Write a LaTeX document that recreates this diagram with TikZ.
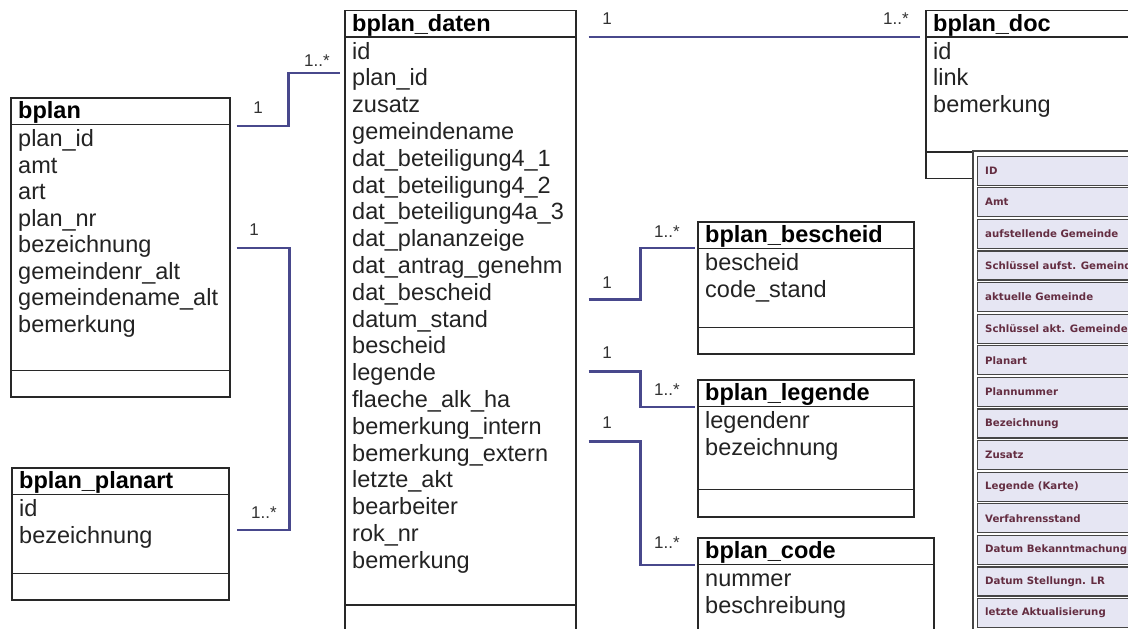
\documentclass[tikz,border=0pt]{standalone}
\usepackage{fontspec}
\setmainfont{Liberation Sans}
\newfontfamily\smallfont{DejaVu Sans}
\usetikzlibrary{calc}
\definecolor{connblue}{RGB}{72,72,140}
\definecolor{boxgray}{RGB}{40,40,40}
\definecolor{labgray}{RGB}{50,50,50}
\definecolor{rowink}{RGB}{35,35,35}
\definecolor{cellfill}{RGB}{230,230,243}
\definecolor{cellline}{RGB}{70,70,70}
\definecolor{cellink}{RGB}{100,45,65}
\tikzset{
 classbox/.style={draw=boxgray, line width=1.5pt, fill=white, inner sep=0pt},
 sepline/.style={draw=boxgray, line width=1.5pt},
 titletext/.style={font=\fontsize{23.5}{26}\selectfont\bfseries, text=black, inner sep=0pt},
 rowtext/.style={font=\fontsize{23.5}{26}\selectfont, text=rowink, inner sep=0pt},
 conn/.style={draw=connblue, line width=2.8pt},
 mult/.style={font=\fontsize{17}{17}\selectfont, text=labgray, inner sep=0pt},
 cell/.style={draw=cellline, line width=1.2pt, fill=cellfill, inner sep=0pt},
 celltxt/.style={font=\smallfont\bfseries\fontsize{10.2}{12}\selectfont, text=cellink, inner sep=0pt},
}
\def\titleh{27.5}
\def\pitch{26.5}
\newcommand\umlclass[8]{%
  \node[classbox, minimum width=#4pt, minimum height=#5pt, anchor=north west] (#1) at (#2,#3) {};
  \draw[sepline] ([yshift=-\titleh pt]#1.north west) -- ([yshift=-\titleh pt]#1.north east);
  \draw[sepline] ([yshift=#6pt]#1.south west) -- ([yshift=#6pt]#1.south east);
  \node[titletext, anchor=base west] (#1-title) at ([xshift=8pt, yshift=-21.5pt]#1.north west) {#7};
  \foreach \t [count=\i from 0] in {#8} {
    \pgfmathsetmacro\yy{\titleh+22+\i*\pitch}
    \node[rowtext, anchor=base west] (#1-r\i) at ([xshift=8pt, yshift=-\yy pt]#1.north west) {\t};
  }%
}
\begin{document}
\begin{tikzpicture}[x=1pt,y=-1pt]
\useasboundingbox (0,0) rectangle (1128,629);
\clip (0,0) rectangle (1128,629);
\fill[white] (0,0) rectangle (1128,629);

\umlclass{bplan}{10}{97}{219}{299}{27}{bplan}{plan\_id,amt,art,plan\_nr,bezeichnung,gemeindenr\_alt,gemeindename\_alt,bemerkung}
\umlclass{planart}{11}{467}{217}{132}{27}{bplan\_planart}{id,bezeichnung}
\def\pitch{26.8}
\umlclass{daten}{344}{9.5}{231}{621}{27}{bplan\_daten}{id,plan\_id,zusatz,gemeindename,dat\_beteiligung4\_1,dat\_beteiligung4\_2,dat\_beteiligung4a\_3,dat\_plananzeige,dat\_antrag\_genehm,dat\_bescheid,datum\_stand,bescheid,legende,flaeche\_alk\_ha,bemerkung\_intern,bemerkung\_extern,letzte\_akt,bearbeiter,rok\_nr,bemerkung}
\def\pitch{26.5}
\umlclass{doc}{925}{9.5}{250}{168}{27}{bplan\_doc}{id,link,bemerkung}
\umlclass{bescheid}{697}{221}{216}{132}{27}{bplan\_bescheid}{bescheid,code\_stand}
\umlclass{legende}{697}{379}{216}{137}{28}{bplan\_legende}{legendenr,bezeichnung}
\umlclass{code}{697}{537}{236}{130}{27}{bplan\_code}{nummer,beschreibung}

% connectors
\draw[conn] ([shift={(6,29)}]bplan.north east) -- ++(52,0) |- ([shift={(-4,63.5)}]daten.north west);
\draw[conn] ([shift={(6,151)}]bplan.north east) -- ++(53,0) |- ([shift={(7,63)}]planart.north east);
\draw[conn] ([shift={(12,27.5)}]daten.north east) -- ([shift={(-5,27.5)}]doc.north west);
\draw[conn] ([shift={(12,290)}]daten.north east) -- ++(52,0) |- ([shift={(-2,27)}]bescheid.north west);
\draw[conn] ([shift={(12,362)}]daten.north east) -- ++(52,0) |- ([shift={(-2,28)}]legende.north west);
\draw[conn] ([shift={(12,432)}]daten.north east) -- ++(52,0) |- ([shift={(-2,28)}]code.north west);

% multiplicities
\node[mult] (m1) at (258,108) {1};
\node[mult] (m2) at (317,61) {1..*};
\node[mult] (m3) at (254,230) {1};
\node[mult] (m4) at (264,513) {1..*};
\node[mult] (m5) at (607,19) {1};
\node[mult] (m6) at (896,19) {1..*};
\node[mult] (m7) at (607,283) {1};
\node[mult] (m8) at (667,232) {1..*};
\node[mult] (m9) at (607,353) {1};
\node[mult] (m10) at (667,390) {1..*};
\node[mult] (m11) at (607,423) {1};
\node[mult] (m12) at (667,543) {1..*};

% screenshot table
\node[draw=cellline, line width=1.5pt, fill=white, minimum width=180pt, minimum height=500pt, anchor=north west, inner sep=0pt] (tbl) at (972,150) {};
\foreach \t [count=\i from 0] in {ID,Amt,aufstellende Gemeinde,Schlüssel aufst. Gemeinde,aktuelle Gemeinde,Schlüssel akt. Gemeinde,Planart,Plannummer,Bezeichnung,Zusatz,Legende (Karte),Verfahrensstand,Datum Bekanntmachung,Datum Stellungn. LR,letzte Aktualisierung} {
  \pgfmathsetmacro\yy{5.5+\i*31.6}
  \node[cell, minimum width=170pt, minimum height=29pt, anchor=north west] (cell\i) at ([xshift=5pt, yshift=-\yy pt]tbl.north west) {};
  \node[celltxt, anchor=west] (celltext\i) at ([xshift=8pt]cell\i.west) {\t};
}
\end{tikzpicture}
\end{document}
